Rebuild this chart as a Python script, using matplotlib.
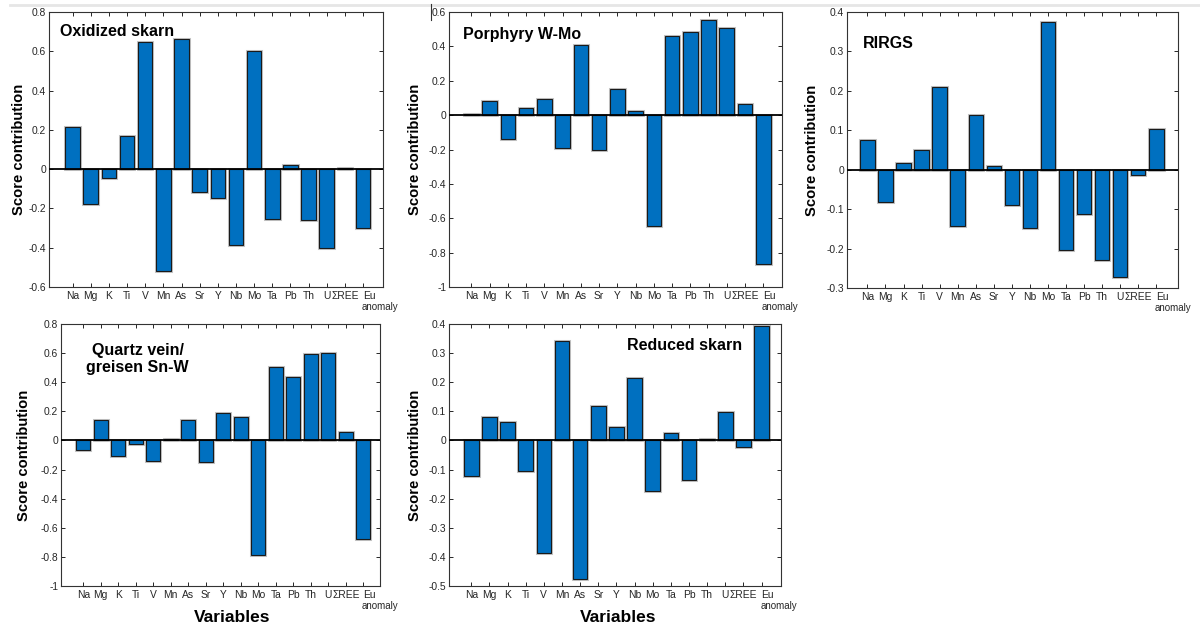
import numpy as np
import matplotlib
matplotlib.use("Agg")
import matplotlib.pyplot as plt
import matplotlib.patheffects as pe
from matplotlib.lines import Line2D
from matplotlib.ticker import FuncFormatter, MultipleLocator

plt.rcParams['font.family'] = ['Liberation Sans', 'DejaVu Sans']

# Variables (PCA loadings) and score contributions for each deposit type
variables = ["Na", "Mg", "K", "Ti", "V", "Mn", "As", "Sr", "Y", "Nb",
             "Mo", "Ta", "Pb", "Th", "U", "ΣREE", "Eu"]

oxidized_skarn = [0.215, -0.175, -0.047, 0.170, 0.646, -0.519, 0.664, -0.115,
                  -0.147, -0.388, 0.603, -0.253, 0.020, -0.258, -0.403, 0.008,
                  -0.300]
porphyry_w_mo = [0.008, 0.082, -0.140, 0.042, 0.094, -0.190, 0.408, -0.205,
                 0.150, 0.022, -0.643, 0.459, 0.486, 0.552, 0.507, 0.067,
                 -0.864]
rirgs = [0.075, -0.083, 0.017, 0.051, 0.211, -0.142, 0.140, 0.009,
         -0.090, -0.147, 0.375, -0.204, -0.113, -0.229, -0.271, -0.014,
         0.103]
quartz_vein = [-0.068, 0.138, -0.109, -0.022, -0.141, 0.012, 0.138, -0.146,
               0.186, 0.159, -0.790, 0.504, 0.438, 0.594, 0.603, 0.058,
               -0.675]
reduced_skarn = [-0.122, 0.079, 0.063, -0.106, -0.387, 0.342, -0.477, 0.118,
                 0.046, 0.215, -0.175, 0.026, -0.135, 0.006, 0.099, -0.021,
                 0.392]

titles = ["Oxidized skarn", "Porphyry W-Mo", "RIRGS",
          "Quartz vein/\ngreisen Sn-W", "Reduced skarn"]
series = [oxidized_skarn, porphyry_w_mo, rirgs, quartz_vein, reduced_skarn]
y_ranges = [(-0.6, 0.8, 0.2), (-1.0, 0.6, 0.2), (-0.3, 0.4, 0.1),
            (-1.0, 0.8, 0.2), (-0.5, 0.4, 0.1)]

W, H = 1200, 633
fig = plt.figure(figsize=(W / 100, H / 100), dpi=100)

# axes boxes in pixels: left, right, top, bottom
boxes = [(49, 383, 12, 287), (449, 782, 12, 287), (847, 1178, 12, 288),
         (61, 380, 324, 586), (449, 781, 324, 586)]
xlims = [(-0.3, 18.1), (-0.23, 18.03), (-0.13, 18.2), (-0.27, 17.95),
         (-0.23, 18.07)]
title_pos = [(0.033, 0.955, 'left'), (0.042, 0.945, 'left'),
             (0.048, 0.913, 'left'), (0.24, 0.927, 'center'),
             (0.536, 0.946, 'left')]
ylabel_x = [19, 415, 812, 24, 415]

bar_color = "#0070C0"
text_color = "#262626"
fmt = FuncFormatter(lambda v, p: "%g" % (round(v, 3) + 0.0))
x = np.arange(1, len(variables) + 1)

for i, (vals, title) in enumerate(zip(series, titles)):
    l, r, t, b = boxes[i]
    ax = fig.add_axes([l / W, 1 - b / H, (r - l) / W, (b - t) / H])
    bars = ax.bar(x, vals, width=0.8, color=bar_color, edgecolor="#1a1a1a",
                  linewidth=0.8, zorder=2)
    for bar in bars:
        bar.set_path_effects([pe.Stroke(linewidth=2.2, foreground="#c4c4c4"),
                              pe.Normal()])
    ax.axhline(0, color="black", linewidth=1.3, zorder=3)

    lo, hi, step = y_ranges[i]
    ax.set_ylim(lo, hi)
    ax.yaxis.set_major_locator(MultipleLocator(step))
    ax.yaxis.set_major_formatter(fmt)
    ax.set_xlim(*xlims[i])
    ax.set_xticks(x)
    ax.set_xticklabels(variables)
    ax.get_xticklabels()[-1].set_horizontalalignment('left')
    ax.annotate("anomaly", xy=(x[-1], 0), xycoords=('data', 'axes fraction'),
                xytext=(-1, -14.2), textcoords='offset points',
                ha='left', va='center', fontsize=7, color=text_color)

    ax.tick_params(direction='in', length=3, width=0.7, top=True, right=True,
                   labelsize=7.4, colors=text_color, pad=3)
    ax.tick_params(axis='y', pad=2)
    for s in ax.spines.values():
        s.set_linewidth(0.8)
        s.set_color("#333333")

    tx, ty, ha = title_pos[i]
    ax.text(tx, ty, title, transform=ax.transAxes, ha=ha, va='top',
            fontsize=11.5, fontweight='bold', color='black',
            multialignment='center', linespacing=1.15, zorder=5)

    yc = 1 - (t + b) / 2 / H
    fig.text(ylabel_x[i] / W, yc, "Score contribution", rotation=90,
             ha='center', va='center', fontsize=10.6, fontweight='bold')

fig.text(232 / W, 1 - 618 / H, "Variables", ha='center', va='center',
         fontsize=12.5, fontweight='bold')
fig.text(618 / W, 1 - 618 / H, "Variables", ha='center', va='center',
         fontsize=12.5, fontweight='bold')

# thin page rule along the top and a small marker stroke
fig.add_artist(Line2D([10 / W, 1], [1 - 5 / H, 1 - 5 / H], color="#e6e6e6",
                      linewidth=2, transform=fig.transFigure))
fig.add_artist(Line2D([431 / W, 431 / W], [1 - 4 / H, 1 - 20 / H],
                      color="#333333", linewidth=0.8,
                      transform=fig.transFigure))

fig.savefig("out.png", dpi=100, facecolor="white")
